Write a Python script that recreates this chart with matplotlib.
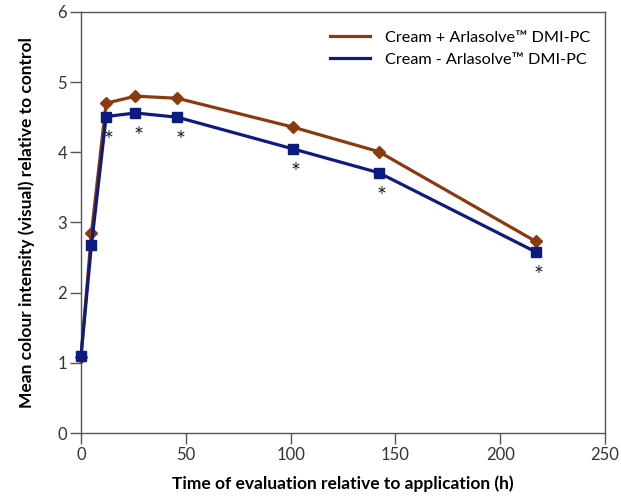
import matplotlib
matplotlib.use("Agg")
import matplotlib.pyplot as plt

# Data
hours = [0, 5, 12, 26, 46, 101, 142, 217]
with_dmi = [1.08, 2.85, 4.70, 4.80, 4.77, 4.36, 4.01, 2.73]
without_dmi = [1.10, 2.68, 4.51, 4.56, 4.50, 4.05, 3.71, 2.58]
significant = [False, False, True, True, True, True, True, True]

label_with = "Cream + Arlasolve\u2122 DMI-PC"
label_without = "Cream - Arlasolve\u2122 DMI-PC"

brown = "#8a3a0c"
navy = "#0d1a80"
axis_grey = "#555555"

plt.rcParams["font.family"] = ["Lato", "DejaVu Sans"]

fig = plt.figure(figsize=(6.21, 4.98), dpi=100)
ax = fig.add_axes([0.1304, 0.1305, 0.8438, 0.8455])

ax.plot(hours, with_dmi, color=brown, lw=2.3, marker="D", markersize=6.5,
        label=label_with, zorder=3, clip_on=False)
ax.plot(hours, without_dmi, color=navy, lw=2.3, marker="s", markersize=7,
        label=label_without, zorder=4, clip_on=False)

# asterisks under significant points
for x, y, sig in zip(hours, without_dmi, significant):
    if sig:
        ax.annotate("*", (x, y), xytext=(2, -17), textcoords="offset points",
                    ha="center", va="center", fontsize=17, color="#222222")

ax.set_xlim(0, 250)
ax.set_ylim(0, 6)
ax.set_xticks([0, 50, 100, 150, 200, 250])
ax.set_yticks([0, 1, 2, 3, 4, 5, 6])

for s in ax.spines.values():
    s.set_color(axis_grey)
    s.set_linewidth(1.0)
ax.tick_params(direction="out", length=8, width=1, color=axis_grey,
               labelsize=12, labelcolor="#333333", pad=2)

ax.set_xlabel("Time of evaluation relative to application (h)",
              fontsize=12.5, fontweight="bold", labelpad=9)
ax.set_ylabel("Mean colour intensity (visual) relative to control",
              fontsize=12.5, fontweight="bold", labelpad=16)

leg = ax.legend(loc="upper right", frameon=False, fontsize=11.7,
                handlelength=2.5, handletextpad=0.9, labelspacing=0.45,
                bbox_to_anchor=(1.0, 0.99))
for h in leg.legend_handles:
    h.set_marker("")

fig.savefig("out.png", dpi=100)
